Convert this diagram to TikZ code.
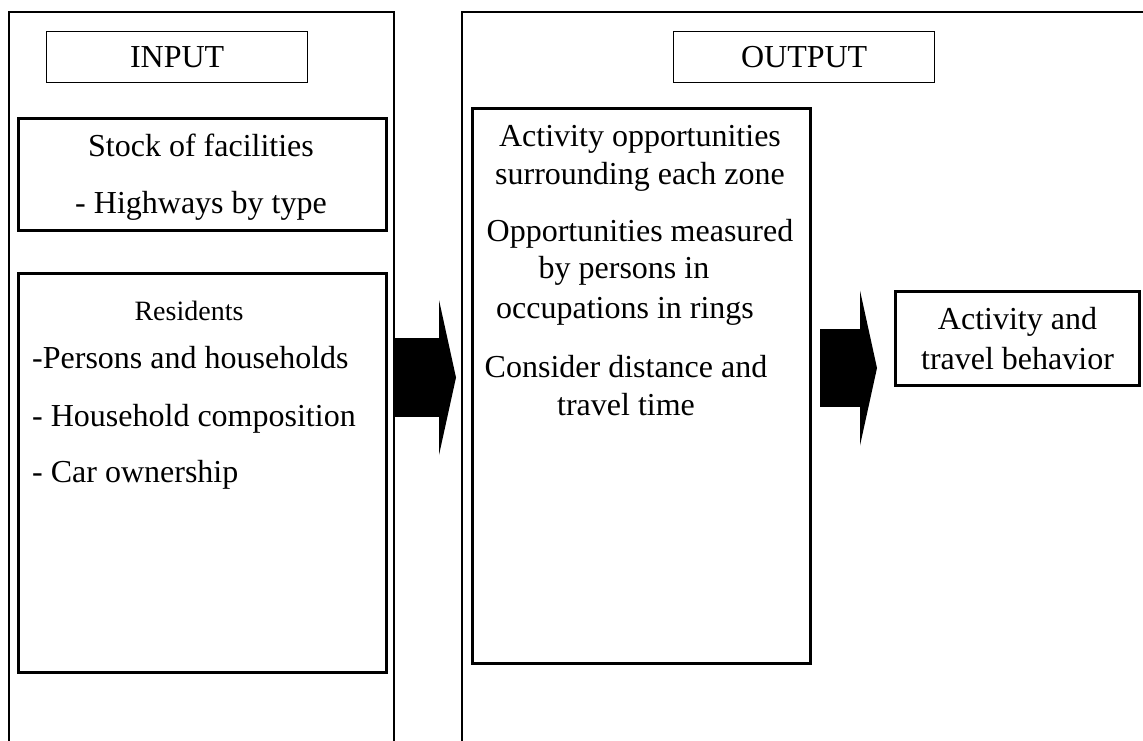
\documentclass[tikz,border=0pt]{standalone}
\usepackage{fontspec}
\setmainfont{Liberation Serif}
\usetikzlibrary{arrows.meta}
\tikzset{
  panel/.style={draw, line width=1.6pt, anchor=north west, inner sep=0pt},
  titlebox/.style={draw, line width=1.3pt, anchor=north west, minimum width=261pt, minimum height=51pt, inner sep=0pt, font=\fontsize{32}{38}\selectfont},
  itembox/.style={draw, line width=3pt, anchor=north west, inner sep=0pt},
  txt/.style={inner sep=0pt, font=\fontsize{32}{38}\selectfont},
  bigarrow/.style={line width=79pt, -{Triangle[length=17pt,width=155pt,line width=0pt]}}
}
\begin{document}
\begin{tikzpicture}[x=1pt,y=-1pt]
      \useasboundingbox (0,0) rectangle (1143,740);
      \clip (0,0) rectangle (1143,740);
      % Two panels
      \node[panel, minimum width=385pt, minimum height=760pt] (inpanel) at (8,11) {};
      \node[panel, minimum width=720pt, minimum height=760pt] (outpanel) at (461,11) {};
      \node[titlebox] (inbox) at (46,31) {INPUT};
      \node[titlebox] (outbox) at (673,31) {OUTPUT};
      % Input side
      \node[itembox, minimum width=368pt, minimum height=112pt] (stockbox) at (17,117) {};
      \node[txt, anchor=base] (stock) at (201,156) {Stock of facilities};
      \node[txt, anchor=base] (hwy) at (201,213) {- Highways by type};
      \node[itembox, minimum width=368pt, minimum height=399pt] (resbox) at (17,272) {};
      \node[txt, anchor=base, font=\fontsize{28}{34}\selectfont] (res) at (189,320) {Residents};
      \node[txt, anchor=base west] (pers) at (32,368) {-Persons and households};
      \node[txt, anchor=base west] (hh) at (32,426) {- Household composition};
      \node[txt, anchor=base west] (car) at (32,482) {- Car ownership};
      % Output side
      \node[itembox, minimum width=338pt, minimum height=555pt] (oppbox) at (471,107) {};
      \node[txt, anchor=base] (opp1) at (640,146) {Activity opportunities};
      \node[txt, anchor=base] (opp2) at (640,184) {surrounding each zone};
      \node[txt, anchor=base] (opp3) at (640,241) {Opportunities measured};
      \node[txt, anchor=base] (opp4) at (624,278) {by persons in};
      \node[txt, anchor=base] (opp5) at (625,318) {occupations in rings};
      \node[txt, anchor=base] (opp6) at (626,377) {Consider distance and};
      \node[txt, anchor=base] (opp7) at (626,415) {travel time};
      \node[itembox, minimum width=244pt, minimum height=94pt, align=center, font=\fontsize{32}{40}\selectfont] (behbox) at (894,290) {Activity and\\travel behavior};
      % Block arrows
      \coordinate (mid1) at (0,377.5);
      \coordinate (mid2) at (0,368);
      \draw[bigarrow, shorten >=5pt] (inpanel.east |- mid1) -- (outpanel.west |- mid1);
      \draw[bigarrow, line width=78pt, shorten <=8pt, shorten >=17pt] (oppbox.east |- mid2) -- (behbox.west |- mid2);
\end{tikzpicture}
\end{document}
